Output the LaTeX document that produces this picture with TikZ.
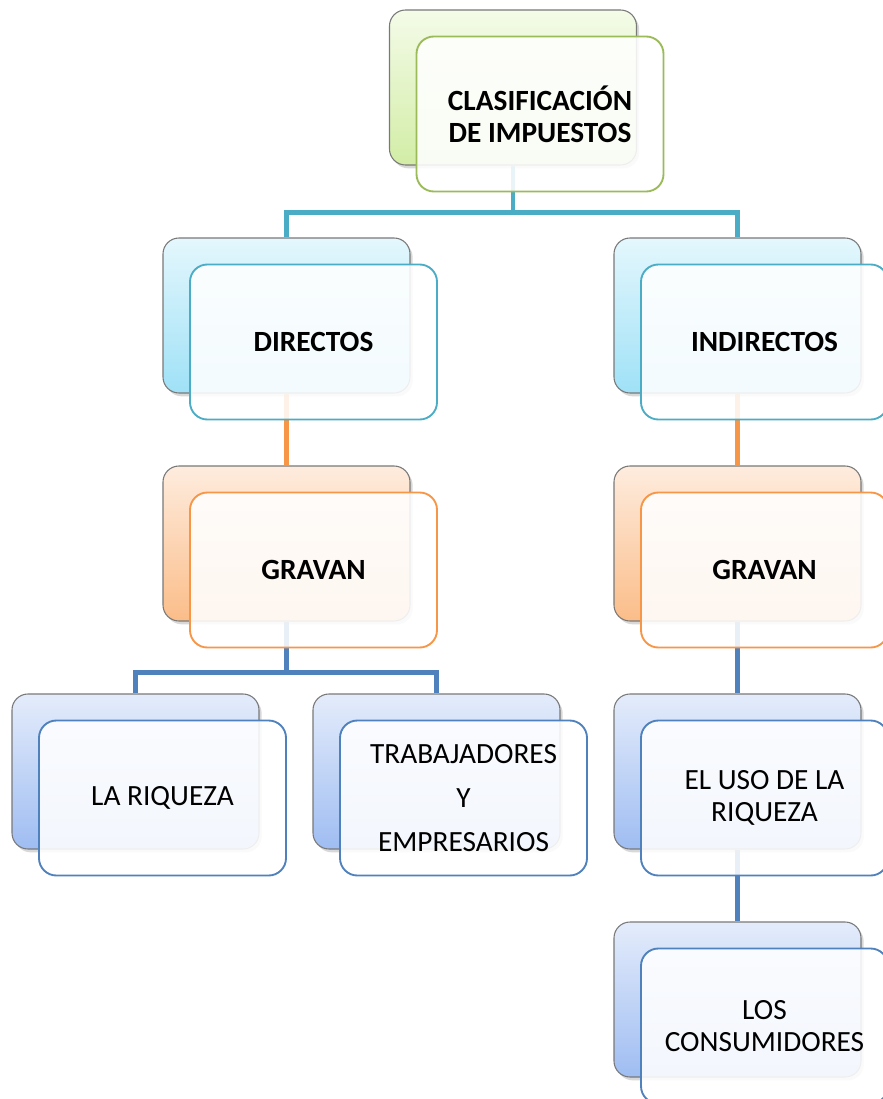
\documentclass[tikz,border=0pt]{standalone}
\usepackage{fontspec}
\setmainfont{Carlito}
\usetikzlibrary{shadows,backgrounds}

\definecolor{bordeVerde}{HTML}{9BBB59}
\definecolor{bordeTeal}{HTML}{4BACC6}
\definecolor{bordeNaranja}{HTML}{F79646}
\definecolor{bordeAzul}{HTML}{4F81BD}
\definecolor{verdeSup}{HTML}{F4FBE8}
\definecolor{verdeInf}{HTML}{D2EDA6}
\definecolor{tealSup}{HTML}{E4F7FD}
\definecolor{tealInf}{HTML}{9FE1F7}
\definecolor{naranjaSup}{HTML}{FEECDE}
\definecolor{naranjaInf}{HTML}{FBBD89}
\definecolor{azulSup}{HTML}{E4ECFB}
\definecolor{azulInf}{HTML}{9FBDF2}

\newcommand{\dobleCaja}[5]{%
  \node[caja,#3] (#1b) at (#2) {};
  \node[frente,#4] (#1) at ([xshift=20.25pt,yshift=-19.875pt]#1b.center) {#5};}

\begin{document}
\begin{tikzpicture}[x=0.75pt,y=-0.75pt]
\tikzset{caja/.style={draw=gray!95!black, line width=0.8pt, rounded corners=12pt,
    minimum width=185.25pt, minimum height=116.25pt,
    drop shadow={shadow xshift=2pt,shadow yshift=-2.5pt,opacity=.3}}}
\tikzset{frente/.style={draw, line width=1.4pt, rounded corners=13pt,
    minimum width=185.25pt, minimum height=116.25pt,
    fill=white, fill opacity=.88, text opacity=1, align=center,
    font=\fontsize{22}{24}\selectfont}}
\tikzset{negrita/.style={font=\fontsize{22}{24}\selectfont\bfseries}}
\tikzset{fondoVerde/.style={top color=verdeSup, bottom color=verdeInf}}
\tikzset{fondoTeal/.style={top color=tealSup, bottom color=tealInf}}
\tikzset{fondoNaranja/.style={top color=naranjaSup, bottom color=naranjaInf}}
\tikzset{fondoAzul/.style={top color=azulSup, bottom color=azulInf}}
\tikzset{linea/.style={line width=3.5pt}}

\useasboundingbox (0,0) rectangle (882,1099);

% cajas
\dobleCaja{clas}{513,87.5}{fondoVerde}{draw=bordeVerde,negrita}{CLASIFICACIÓN\\DE IMPUESTOS}
\dobleCaja{dir}{286.5,315.5}{fondoTeal}{draw=bordeTeal,negrita}{DIRECTOS}
\dobleCaja{ind}{737.5,315.5}{fondoTeal}{draw=bordeTeal,negrita}{INDIRECTOS}
\dobleCaja{gravA}{286.5,543.5}{fondoNaranja}{draw=bordeNaranja,negrita}{GRAVAN}
\dobleCaja{gravB}{737.5,543.5}{fondoNaranja}{draw=bordeNaranja,negrita}{GRAVAN}
\dobleCaja{riq}{135.5,771.5}{fondoAzul}{draw=bordeAzul}{LA RIQUEZA}
\dobleCaja{trab}{436.5,771.5}{fondoAzul}{draw=bordeAzul,font=\fontsize{22}{33}\selectfont}{TRABAJADORES\\Y\\EMPRESARIOS}
\dobleCaja{uso}{737.5,771.5}{fondoAzul}{draw=bordeAzul}{EL USO DE LA\\RIQUEZA}
\dobleCaja{cons}{737.5,999.5}{fondoAzul}{draw=bordeAzul}{LOS\\CONSUMIDORES}

% conectores
\begin{pgfonlayer}{background}
\fill[white] (0,0) rectangle (882,1099);
\draw[linea,bordeTeal] (clasb.south) -- ++(0,47) -| (dirb.north);
\draw[linea,bordeTeal] (clasb.south) -- ++(0,47) -| (indb.north);
\draw[linea,bordeNaranja] (dirb.south) -- (gravAb.north);
\draw[linea,bordeNaranja] (indb.south) -- (gravBb.north);
\draw[linea,bordeAzul] (gravAb.south) -- ++(0,51) -| (riqb.north);
\draw[linea,bordeAzul] (gravAb.south) -- ++(0,51) -| (trabb.north);
\draw[linea,bordeAzul] (gravBb.south) -- (usob.north);
\draw[linea,bordeAzul] (usob.south) -- (consb.north);
\end{pgfonlayer}
\end{tikzpicture}
\end{document}
